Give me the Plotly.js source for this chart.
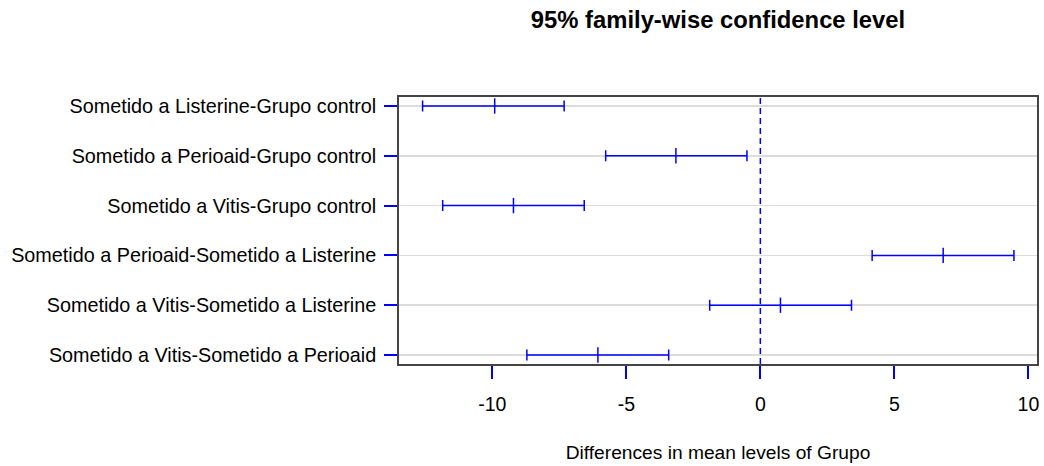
<!DOCTYPE html>
<html>
<head>
<meta charset="utf-8">
<script src="https://cdn.plot.ly/plotly-3.0.1.min.js"></script>
<style>html,body{margin:0;padding:0;background:#fff;}#chart{width:1044px;height:466px;}</style>
</head>
<body>
<div id="chart"></div>
<script>
// Comparisons, listed top to bottom
var comparisons = [
  "Sometido a Listerine-Grupo control",
  "Sometido a Perioaid-Grupo control",
  "Sometido a Vitis-Grupo control",
  "Sometido a Perioaid-Sometido a Listerine",
  "Sometido a Vitis-Sometido a Listerine",
  "Sometido a Vitis-Sometido a Perioaid"
];
var diff = [-9.91, -3.15, -9.21, 6.82, 0.75, -6.06];
var lwr  = [-12.60, -5.77, -11.85, 4.17, -1.89, -8.71];
var upr  = [-7.32, -0.50, -6.57, 9.46, 3.40, -3.42];
var xTicks = [-10, -5, 0, 5, 10];

var n = comparisons.length;
var ypos = comparisons.map(function(_, i){ return n - i; });
var errPlus = diff.map(function(d, i){ return upr[i] - d; });
var errMinus = diff.map(function(d, i){ return d - lwr[i]; });

var font = "Liberation Sans, Arial, sans-serif";
var blue = "#0000ff";

var trace = {
  x: diff,
  y: ypos,
  type: "scatter",
  mode: "markers",
  marker: {symbol: "line-ns", size: 11, color: blue, line: {color: blue, width: 1.5}},
  error_x: {type: "data", symmetric: false, array: errPlus, arrayminus: errMinus,
            color: blue, thickness: 1.5, width: 5.5},
  hoverinfo: "skip",
  showlegend: false
};

var layout = {
  width: 1044, height: 466,
  margin: {l: 399, r: 7, t: 97, b: 102},
  paper_bgcolor: "#ffffff",
  plot_bgcolor: "#ffffff",
  font: {family: font, size: 19.8, color: "#000"},
  title: {
    text: "95% family-wise confidence level",
    font: {family: font, size: 23.8, weight: "bold", color: "#000"},
    xref: "paper", x: 0.5, xanchor: "center",
    yref: "container", y: 1 - 20/466, yanchor: "middle"
  },
  xaxis: {
    range: [-13.48, 10.32],
    tickvals: xTicks,
    ticktext: xTicks.map(String),
    ticks: "outside", ticklen: 13, tickwidth: 2, tickcolor: blue,
    ticklabelstandoff: 9,
    showgrid: false, zeroline: false,
    showline: true, mirror: true, linecolor: "#444", linewidth: 1.8,
    tickfont: {family: font, size: 19.5, color: "#000"},
    title: {text: "Differences in mean levels of Grupo", standoff: 31,
            font: {family: font, size: 19.2, color: "#000"}}
  },
  yaxis: {
    range: [0.82, 6.18],
    tickvals: ypos,
    ticktext: comparisons,
    ticks: "outside", ticklen: 13, tickwidth: 2, tickcolor: blue,
    ticklabelstandoff: 4,
    showgrid: true, gridcolor: "#dcdcdc", gridwidth: 1.5,
    zeroline: false,
    showline: true, mirror: true, linecolor: "#444", linewidth: 1.8,
    tickfont: {family: font, size: 19.8, color: "#000"}
  },
  shapes: [{
    type: "line", xref: "x", yref: "paper", x0: 0, x1: 0, y0: 0, y1: 1,
    line: {color: blue, width: 1.5, dash: "6px,4px"}, layer: "above"
  }]
};

Plotly.newPlot("chart", [trace], layout, {displayModeBar: false, staticPlot: true});
</script>
</body>
</html>
